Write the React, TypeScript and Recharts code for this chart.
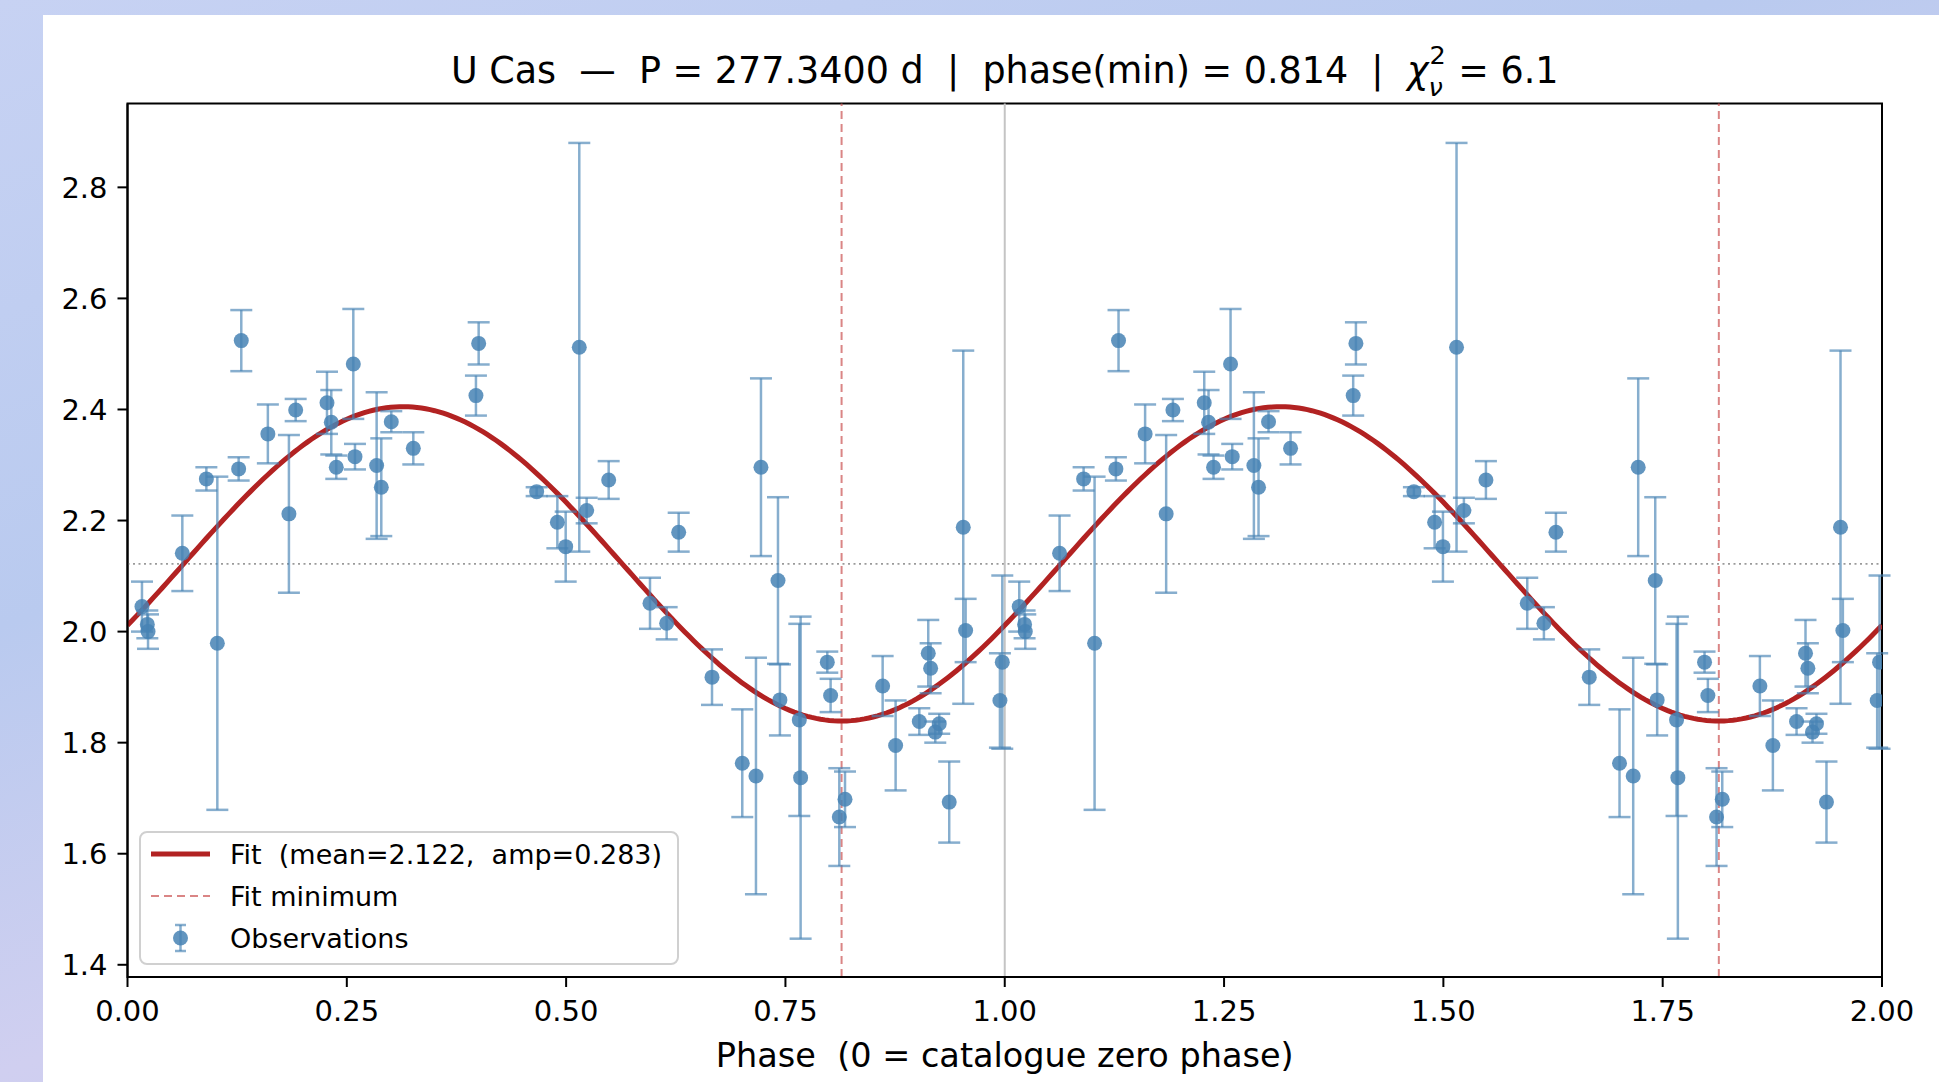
import React from "react";
import {
  ComposedChart,
  Line,
  Scatter,
  ErrorBar,
  XAxis,
  YAxis,
  ReferenceLine,
  ReferenceArea,
} from "recharts";

// one folded cycle of observations (phase, magnitude, 1-sigma error)
const obsPhase = [
  0.0165, 0.0226, 0.0234, 0.0625, 0.0899, 0.1024, 0.1267, 0.1297, 0.16, 0.184,
  0.1917, 0.2274, 0.2323, 0.238, 0.2574, 0.2593, 0.284, 0.2893, 0.3007, 0.3258,
  0.3972, 0.4003, 0.4664, 0.49, 0.4995, 0.515, 0.5234, 0.5485, 0.5956, 0.6146,
  0.6283, 0.6663, 0.7008, 0.7164, 0.7221, 0.7415, 0.7437, 0.7658, 0.7673, 0.7977,
  0.8015, 0.8114, 0.8179, 0.8608, 0.8756, 0.9026, 0.9128, 0.9155, 0.9208, 0.9253,
  0.9367, 0.9527, 0.9554, 0.9945, 0.9972,
];
const obsMag = [
  2.045, 2.013, 2.0, 2.141, 2.275, 1.979, 2.293, 2.524, 2.356, 2.212,
  2.399, 2.412, 2.377, 2.296, 2.482, 2.315, 2.299, 2.26, 2.378, 2.33,
  2.425, 2.519, 2.252, 2.197, 2.153, 2.512, 2.218, 2.273, 2.051, 2.015,
  2.179, 1.918, 1.763, 1.74, 2.296, 2.092, 1.877, 1.841, 1.737, 1.945,
  1.885, 1.666, 1.698, 1.902, 1.795, 1.838, 1.961, 1.934, 1.819, 1.834,
  1.693, 2.188, 2.002, 1.876, 1.945,
];
const obsErr = [
  0.045, 0.025, 0.031, 0.068, 0.021, 0.3, 0.021, 0.055, 0.053, 0.142,
  0.02, 0.056, 0.058, 0.021, 0.099, 0.023, 0.132, 0.088, 0.019, 0.029,
  0.036, 0.038, 0.008, 0.047, 0.063, 0.368, 0.023, 0.034, 0.046, 0.029,
  0.035, 0.05, 0.097, 0.213, 0.16, 0.15, 0.064, 0.173, 0.29, 0.019,
  0.03, 0.088, 0.05, 0.054, 0.081, 0.024, 0.06, 0.045, 0.019, 0.018,
  0.073, 0.318, 0.057, 0.085, 0.156,
];

// fit parameters (legend / title)
const FIT_MEAN = 2.122;
const FIT_AMP = 0.283;
const PHASE_MIN = 0.814;

const xTicks = [0, 0.25, 0.5, 0.75, 1, 1.25, 1.5, 1.75, 2];
const yTicks = [1.4, 1.6, 1.8, 2.0, 2.2, 2.4, 2.6, 2.8];
const Y_MIN = 1.378;
const Y_MAX = 2.951;

const observations = [0, 1].flatMap((cycle) =>
  obsPhase.map((p, i) => ({ phase: p + cycle, mag: obsMag[i], err: obsErr[i] }))
);

const fitCurve = Array.from({ length: 401 }, (_, i) => {
  const phase = (2 * i) / 400;
  return {
    phase,
    mag: FIT_MEAN - FIT_AMP * Math.cos(2 * Math.PI * (phase - PHASE_MIN)),
  };
});

const FONT = "DejaVu Sans";
const BLUE = "#4682b4";
const RED = "#b22222";

const Dot = (props: any) => (
  <circle cx={props.cx} cy={props.cy} r={7.5} fill={BLUE} fillOpacity={0.85} />
);

const Title = () => (
  <div
    style={{
      position: "absolute",
      left: 127.5,
      width: 1754.5,
      top: 50.5,
      textAlign: "center",
      fontFamily: FONT,
      fontSize: 36.5,
      lineHeight: "40px",
      whiteSpace: "pre",
      color: "#000",
    }}
  >
    {"U Cas  \u2014  P = 277.3400 d  |  phase(min) = 0.814  |  "}
    <span style={{ fontStyle: "italic" }}>χ</span>
    <span
      style={{
        display: "inline-block",
        position: "relative",
        width: "0.5em",
        height: "1em",
        verticalAlign: "top",
      }}
    >
      <span
        style={{ position: "absolute", left: 1, top: -8, fontSize: "0.7em", lineHeight: 1 }}
      >
        2
      </span>
      <span
        style={{
          position: "absolute",
          left: 0,
          top: 24,
          fontSize: "0.7em",
          lineHeight: 1,
          fontStyle: "italic",
        }}
      >
        ν
      </span>
    </span>
    {" = 6.1"}
  </div>
);

const LegendBox = () => (
  <svg
    width={540}
    height={134}
    style={{ position: "absolute", left: 139, top: 831 }}
  >
    <rect
      x={1}
      y={1}
      width={538}
      height={132}
      rx={7}
      fill="#fff"
      fillOpacity={0.8}
      stroke="#d0d0d0"
      strokeWidth={2}
    />
    <line x1={12} y1={23} x2={71} y2={23} stroke={RED} strokeWidth={5} />
    <line
      x1={12}
      y1={65}
      x2={71}
      y2={65}
      stroke="#cd5c5c"
      strokeOpacity={0.75}
      strokeWidth={2}
      strokeDasharray="8 5"
    />
    <g stroke={BLUE} strokeOpacity={0.65} strokeWidth={2.5}>
      <line x1={41.5} y1={94} x2={41.5} y2={120} />
      <line x1={36} y1={94} x2={47} y2={94} />
      <line x1={36} y1={120} x2={47} y2={120} />
    </g>
    <circle cx={41.5} cy={107} r={7.5} fill={BLUE} fillOpacity={0.85} />
    <g fontFamily={FONT} fontSize={27} fill="#000">
      <text x={91} y={23} dominantBaseline="central" xmlSpace="preserve">
        {"Fit  (mean=2.122,  amp=0.283)"}
      </text>
      <text x={91} y={65} dominantBaseline="central">
        Fit minimum
      </text>
      <text x={91} y={107} dominantBaseline="central">
        Observations
      </text>
    </g>
  </svg>
);

export default function App() {
  return (
    <div
      style={{
        position: "absolute",
        left: 0,
        top: 0,
        width: 1939,
        height: 1082,
        overflow: "hidden",
        background:
          "linear-gradient(160deg, #c7d2f3 0%, #b9caef 35%, #d0cff0 60%, #bccdf1 100%)",
      }}
    >
      <div
        style={{ position: "absolute", left: 43, top: 15, right: 0, bottom: 0, background: "#fff" }}
      />
      <div style={{ position: "absolute", left: 0, top: 0 }}>
        <ComposedChart
          width={1939}
          height={1082}
          margin={{ top: 103.5, right: 57, bottom: 0, left: 47.5 }}
        >
          <XAxis
            type="number"
            dataKey="phase"
            domain={[0, 2]}
            ticks={xTicks}
            allowDataOverflow
            height={105}
            tickFormatter={(v) => v.toFixed(2)}
            tick={{ fill: "#000", fontSize: 29, fontFamily: FONT }}
            tickSize={10}
            tickMargin={13}
            axisLine={{ stroke: "#000", strokeWidth: 2 }}
            tickLine={{ stroke: "#000", strokeWidth: 2 }}
            label={{
              value: "Phase\u00a0 (0 = catalogue zero phase)",
              position: "insideBottom",
              offset: 15,
              fill: "#000",
              fontSize: 33.5,
              fontFamily: FONT,
            }}
          />
          <YAxis
            type="number"
            dataKey="mag"
            domain={[Y_MIN, Y_MAX]}
            ticks={yTicks}
            allowDataOverflow
            width={80}
            tickFormatter={(v) => v.toFixed(1)}
            tick={{ fill: "#000", fontSize: 29, fontFamily: FONT }}
            tickSize={10}
            tickMargin={10}
            axisLine={{ stroke: "#000", strokeWidth: 2 }}
            tickLine={{ stroke: "#000", strokeWidth: 2 }}
          />
          <ReferenceLine
            y={FIT_MEAN}
            stroke="#9a9a9a"
            strokeWidth={1.6}
            strokeDasharray="2 3.5"
          />
          <ReferenceLine x={1} stroke="#c4c4c4" strokeWidth={2} />
          <ReferenceLine
            x={PHASE_MIN}
            stroke="#cd5c5c"
            strokeOpacity={0.75}
            strokeWidth={2}
            strokeDasharray="8 5"
          />
          <ReferenceLine
            x={PHASE_MIN + 1}
            stroke="#cd5c5c"
            strokeOpacity={0.75}
            strokeWidth={2}
            strokeDasharray="8 5"
          />
          <Line
            data={fitCurve}
            dataKey="mag"
            type="linear"
            dot={false}
            stroke={RED}
            strokeWidth={5}
            isAnimationActive={false}
          />
          <Scatter data={observations} dataKey="mag" shape={Dot} isAnimationActive={false}>
            <ErrorBar
              dataKey="err"
              direction="y"
              width={11}
              stroke={BLUE}
              strokeOpacity={0.65}
              strokeWidth={2.5}
              isAnimationActive={false}
            />
          </Scatter>
          <ReferenceArea
            x1={0}
            x2={2}
            y1={Y_MIN}
            y2={Y_MAX}
            fill="none"
            stroke="#000"
            strokeWidth={2}
          />
        </ComposedChart>
      </div>
      <Title />
      <LegendBox />
    </div>
  );
}
